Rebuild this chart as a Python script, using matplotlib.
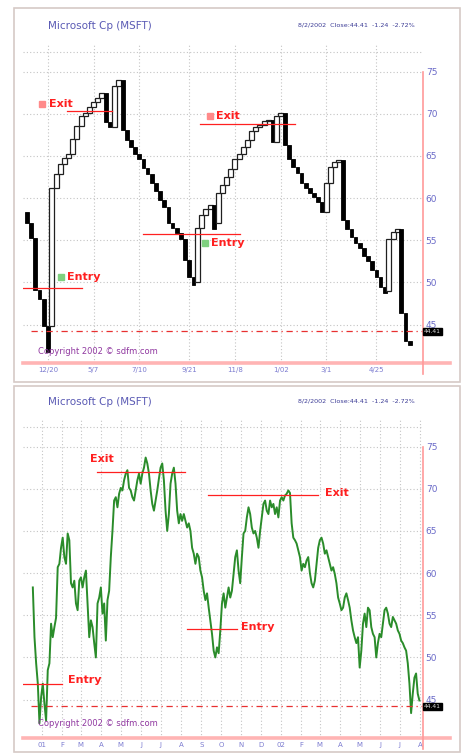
import matplotlib
matplotlib.use("Agg")
import matplotlib.pyplot as plt
from matplotlib.patches import Rectangle
import pandas as pd

W, H = 467, 756

# top panel: three line break boxes, open -> close (rising = hollow, falling = black)
tlb_open = [58.4, 57.1, 55.3, 49.1, 48.0, 44.8,
            44.8, 61.2, 62.8, 64.0, 64.8, 65.2, 67.0, 68.5, 69.7, 70.1, 70.8, 71.4, 71.9,
            72.5, 69.0,
            68.4, 73.3,
            74.0, 68.1, 66.9, 66.0, 65.2, 64.6, 63.6, 62.8, 61.8, 60.8, 59.8, 59.0, 57.1,
            56.5, 55.9, 55.1, 52.7, 50.7,
            50.0, 56.5, 58.0, 58.7,
            59.2,
            57.0, 60.6, 61.6, 62.5, 63.4, 64.6, 65.2, 66.0, 66.9, 67.9, 68.4, 68.7, 69.1,
            69.3,
            66.6, 69.7,
            70.1, 66.3, 64.6, 63.7, 63.0, 61.8, 61.2, 60.6, 60.1, 59.5,
            58.3, 61.8, 63.7, 64.3,
            64.5, 57.4, 56.3, 55.4, 54.7, 54.1, 53.1, 52.5, 51.5, 50.6, 49.5,
            49.0, 55.1, 56.0,
            56.3, 46.4, 43.0]
tlb_close = [57.1, 55.3, 49.1, 48.0, 44.8, 41.7,
             61.2, 62.8, 64.0, 64.8, 65.2, 67.0, 68.5, 69.7, 70.1, 70.8, 71.4, 71.9, 72.5,
             69.0, 68.4,
             73.3, 74.0,
             68.1, 66.9, 66.0, 65.2, 64.6, 63.6, 62.8, 61.8, 60.8, 59.8, 59.0, 57.1, 56.5,
             55.9, 55.1, 52.7, 50.7, 49.7,
             56.5, 58.0, 58.7, 59.2,
             56.3,
             60.6, 61.6, 62.5, 63.4, 64.6, 65.2, 66.0, 66.9, 67.9, 68.4, 68.7, 69.1, 69.3,
             66.6,
             69.7, 70.1,
             66.3, 64.6, 63.7, 63.0, 61.8, 61.2, 60.6, 60.1, 59.5, 58.3,
             61.8, 63.7, 64.3, 64.5,
             57.4, 56.3, 55.4, 54.7, 54.1, 53.1, 52.5, 51.5, 50.6, 49.5, 48.8,
             55.1, 56.0, 56.3,
             46.4, 43.0, 42.6]
top_tick_cols = [5, 16, 27, 39, 50, 61, 72, 84]
top_tick_labels = ["12/20", "5/7", "7/10", "9/21", "11/8", "1/02", "3/1", "4/25"]

# bottom panel: closing prices, evenly spaced between first_day and last_day
msft_close = [
    58.3, 52.4, 49.3, 46.9, 42.2, 45.3, 46.9, 44.5, 42.5, 48.5,
    49.3, 54.0, 52.4, 53.6, 54.7, 60.7, 61.1, 63.0, 64.2, 61.9,
    61.1, 64.7, 63.9, 58.8, 58.3, 59.1, 56.4, 55.6, 59.1, 59.5,
    58.3, 59.5, 60.3, 56.4, 52.4, 54.4, 53.6, 51.7, 50.0, 56.4,
    57.1, 58.3, 55.2, 56.4, 52.0, 56.8, 57.9, 61.9, 65.0, 68.6,
    69.0, 67.8, 69.4, 70.1, 69.8, 71.0, 71.8, 72.2, 70.1, 69.8,
    69.0, 68.6, 69.8, 71.0, 71.8, 70.6, 71.8, 72.5, 73.7, 73.0,
    71.8,
    69.8, 68.2, 67.4, 68.6, 69.8, 71.2, 72.5, 73.0, 71.0, 67.4,
    65.0, 67.0, 70.6, 71.8, 72.5, 70.6, 67.4, 65.9, 67.0, 66.2,
    67.0, 66.2, 65.4, 65.9, 65.0, 63.0, 62.3, 61.1, 62.3, 61.9,
    60.3, 59.5, 57.9, 56.8, 57.6, 55.9, 54.4, 52.8, 50.8, 50.0,
    51.2, 50.5, 53.2, 56.4, 57.6, 55.9, 57.1, 58.3, 57.1, 57.9,
    59.9, 61.9, 62.7, 60.3, 58.8, 61.9, 64.7, 65.0, 66.6, 67.8,
    67.0, 65.4, 64.7, 65.0, 64.2, 63.0, 65.0, 66.6, 68.2, 68.6,
    67.4, 67.0, 68.6, 67.8, 68.2, 67.0, 67.8, 66.6,
    68.6, 69.0, 68.6, 69.2, 69.4, 69.8, 69.5, 65.9, 64.2, 63.9,
    63.5, 62.7, 61.9, 60.3, 61.1, 60.7, 61.5, 61.9, 60.0, 58.8,
    58.3, 59.1, 61.1, 63.0, 63.9, 64.2, 63.5, 62.3, 62.7, 61.9,
    61.1, 60.3, 60.7, 59.9, 58.8, 57.1, 56.4, 55.6, 55.9, 57.1,
    57.6, 56.8, 55.9, 54.4, 53.2, 52.4, 51.7, 52.4, 48.8, 50.8,
    54.0, 55.2, 53.6, 55.9, 55.6, 53.6, 52.8, 52.4, 50.0, 51.7,
    52.8, 52.4, 54.0, 55.6, 55.9, 55.2, 54.0, 53.6, 54.8, 54.4,
    54.0, 53.2, 52.8, 52.0, 51.7, 51.2, 50.8, 49.3, 46.9, 43.4,
    45.7, 47.6, 48.1, 45.7, 44.9]
first_day, last_day = "2000-12-18", "2002-07-31"
month_labels = ["01", "F", "M", "A", "M", "J", "J", "A", "S", "O", "N", "D",
                "02", "F", "M", "A", "M", "J", "J", "A"]

price_ticks = [45, 50, 55, 60, 65, 70, 75]
last_level = 44.3
last_label = "44.41"
title = "Microsoft Cp (MSFT)"
header = "8/2/2002  Close:44.41  -1.24  -2.72%"
copyright_txt = "Copyright 2002 \u00a9 sdfm.com"

# signals: text, level, line from, line to, text x, text y, marker colour
top_signals = [("Exit", 70.3, 9.6, 20.4, 5.3, 71.2, "#ff8a8a"),
               ("Exit", 68.8, 41.6, 64.4, 45.5, 69.7, "#ff8a8a"),
               ("Entry", 49.3, -0.96, 13.2, 9.7, 50.6, "#7fd07f"),
               ("Entry", 55.8, 27.9, 51.2, 44.3, 54.7, "#7fd07f")]
bottom_signals = [("Exit", 72.0, "2001-03-26", "2001-08-07", "2001-03-15", 73.5),
                  ("Exit", 69.2, "2001-09-11", "2002-02-26", "2002-03-09", 69.5),
                  ("Entry", 46.8, "2000-12-01", "2001-01-31", "2001-02-10", 47.3),
                  ("Entry", 53.4, "2001-08-10", "2001-10-25", "2001-11-01", 53.6)]

YLIM = (40.45, 78.15)
RED = "#ff2020"
PINK = "#ffb4b4"
BLUE = "#6a6ac8"


def px_rect(x0, y0, x1, y1):
    return [x0 / W, 1 - y1 / H, (x1 - x0) / W, (y1 - y0) / H]


def style_panel(ax, top_px, axis_top_px):
    ax.set_ylim(*YLIM)
    for s in ax.spines.values():
        s.set_visible(False)
    ax.yaxis.tick_right()
    ax.set_yticks(price_ticks)
    ax.set_yticklabels([str(t) for t in price_ticks])
    ax.tick_params(axis="y", length=0, pad=2, labelsize=6.5, labelcolor=BLUE)
    ax.tick_params(axis="x", length=0, pad=3, labelsize=5, labelcolor="#7c7cd0")
    ax.grid(True, color="#c4c4c4", linestyle=(0, (1, 2)), linewidth=0.8)
    ax.set_axisbelow(True)
    ax.axhline(77.3, color="#c4c4c4", linestyle=(0, (1, 2)), linewidth=0.8, xmax=0.995)
    # pink base line and red right axis line
    ax.plot([0, 1.0675], [0, 0], transform=ax.transAxes, clip_on=False,
            color=PINK, lw=2.6, zorder=5)
    ax.plot([1, 1], [-0.035, (axis_top_px - top_px) / 318 + 1], transform=ax.transAxes,
            clip_on=False, color="#ff9a9a", lw=1.2, zorder=5)
    # last price level, value box sits just under the 45 label
    ax.axhline(last_level, xmin=0.02, xmax=1.0, color="#e83030", lw=0.9,
               linestyle=(0, (5, 3, 1, 3)), zorder=4)
    ax.text(1.003, last_level + 0.15, last_label, transform=ax.get_yaxis_transform(),
            ha="left", va="top", fontsize=4.3, color="#dddddd", zorder=6,
            bbox=dict(boxstyle="square,pad=0.2", fc="black", ec="black"))


fig = plt.figure(figsize=(W / 100, H / 100), dpi=100)

# outer frames
for y0, y1 in [(8, 382), (386, 752)]:
    fig.patches.append(Rectangle((14 / W, 1 - y1 / H), 446 / W, (y1 - y0) / H,
                                 transform=fig.transFigure, fill=False,
                                 ec="#d6cac6", lw=1.2))

# ---------------- top panel ----------------
ax1 = fig.add_axes(px_rect(23, 45, 423, 363))
style_panel(ax1, 45, 18)
ax1.set_xlim(-0.96, 95.2)
ax1.set_xticks(top_tick_cols)
ax1.set_xticklabels(top_tick_labels)

for i, (o, c) in enumerate(zip(tlb_open, tlb_close)):
    lo, hi = min(o, c), max(o, c)
    if c < o:
        ax1.add_patch(Rectangle((i - 0.45, lo), 0.9, hi - lo, fc="black", ec="black",
                                lw=0.6, zorder=3 + i * 0.001))
    else:
        ax1.add_patch(Rectangle((i - 0.6, lo), 1.2, hi - lo, fc="white", ec="#202020",
                                lw=0.9, zorder=3 + i * 0.001))

for txt, lvl, x0, x1, tx, ty, mc in top_signals:
    ax1.plot([x0, x1], [lvl, lvl], color=RED, lw=0.9, zorder=4)
    ax1.plot([tx - 1.6], [ty], marker="s", ms=4.5, mfc=mc, mec=mc, zorder=6)
    ax1.text(tx, ty, txt, color=RED, fontsize=8, fontweight="bold",
             ha="left", va="center", zorder=6)

fig.text(48 / W, 1 - 26 / H, title, color="#5a5ab4", fontsize=7.5, va="center")
fig.text(415 / W, 1 - 25 / H, header, color="#3c3c96", fontsize=4.6, va="center", ha="right")
fig.text(38 / W, 1 - 351 / H, copyright_txt, color="#9038a0", fontsize=6, va="center")

# ---------------- bottom panel ----------------
ax2 = fig.add_axes(px_rect(23, 420, 423, 738))
style_panel(ax2, 420, 393)
dates = pd.date_range(first_day, last_day, periods=len(msft_close))
ax2.plot(dates, msft_close, color="#2a8c2a", lw=1.4, zorder=3)
ax2.set_xlim(pd.Timestamp("2000-12-03"), pd.Timestamp("2002-08-05 12:00"))
month_starts = pd.date_range("2001-01-01", periods=len(month_labels), freq="MS")
ax2.set_xticks(month_starts)
ax2.set_xticklabels(month_labels)

for txt, lvl, d0, d1, tx, ty in bottom_signals:
    ax2.plot([pd.Timestamp(d0), pd.Timestamp(d1)], [lvl, lvl], color=RED, lw=0.9, zorder=4)
    ax2.text(pd.Timestamp(tx), ty, txt, color=RED, fontsize=8, fontweight="bold",
             ha="left", va="center", zorder=6)

fig.text(48 / W, 1 - 402 / H, title, color="#5a5ab4", fontsize=7.5, va="center")
fig.text(415 / W, 1 - 401 / H, header, color="#3c3c96", fontsize=4.6, va="center", ha="right")
fig.text(38 / W, 1 - 724 / H, copyright_txt, color="#9038a0", fontsize=6, va="center")

fig.savefig("out.png", dpi=100, facecolor="white")
